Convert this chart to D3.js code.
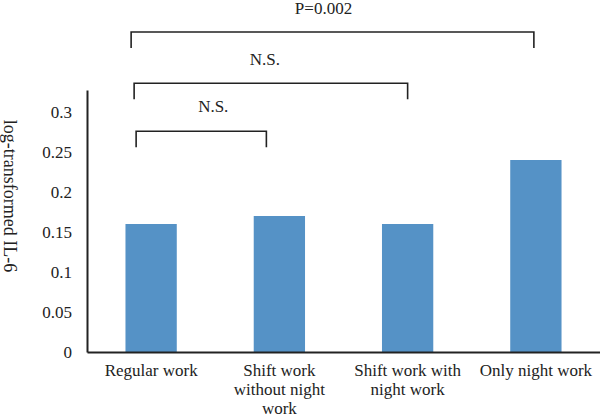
<!DOCTYPE html>
<html>
<head>
<meta charset="utf-8">
<script src="https://cdn.jsdelivr.net/npm/d3@7"></script>
<style>
  body { margin: 0; background: #fff; }
  svg, svg text { font-family: "Liberation Serif", "Times New Roman", serif; }
  svg { display: block; }
</style>
</head>
<body>
<div id="chart"></div>
<script>
// data
const categories = ["Regular work", "Shift work without night work", "Shift work with night work", "Only night work"];
const values = [0.16, 0.17, 0.16, 0.24];
const yTicks = [0, 0.05, 0.1, 0.15, 0.2, 0.25, 0.3];

// significance brackets: from / to category, height of the bar (axis units), label
const cmpFrom = ["Regular work", "Regular work", "Regular work"];
const cmpTo = ["Only night work", "Shift work with night work", "Shift work without night work"];
const cmpLevel = [0.4, 0.336, 0.276];
const cmpLabel = ["P=0.002", "N.S.", "N.S."];

const width = 600, height = 417;
const margin = {left: 87, right: 0, top: 0, bottom: 65};
const barColor = "#5592c6";
const ink = "#222";
const serif = "Liberation Serif";

// small nudges of the bracket ends / labels as drawn in the original
const bracketNudge = [
  {l: -20, r: -2, t: -9, dy: 18},
  {l: -17, r: 0, t: -6, dy: 18},
  {l: -15, r: -13, t: 12, dy: 19}
];

const svg = d3.select("#chart")
  .append("svg")
  .attr("width", width)
  .attr("height", height);

const x = d3.scaleBand()
  .domain(categories)
  .range([margin.left, width - margin.right])
  .paddingInner(0.6)
  .paddingOuter(0.3);

const y = d3.scaleLinear()
  .domain([0, 0.3275])
  .range([height - margin.bottom, 90]);

// bars
svg.append("g")
  .selectAll("rect")
  .data(values)
  .enter().append("rect")
  .attr("x", (d, i) => x(categories[i]))
  .attr("y", d => y(d))
  .attr("width", x.bandwidth())
  .attr("height", d => y(0) - y(d))
  .attr("fill", barColor);

// y axis
const yAxis = svg.append("g")
  .attr("transform", `translate(${margin.left},0)`)
  .call(d3.axisLeft(y).tickValues(yTicks).tickSize(0).tickPadding(15).tickFormat(d3.format("~g")))
  .attr("font-family", serif)
  .attr("font-size", 17);
yAxis.select(".domain").attr("stroke", ink).attr("stroke-width", 2);
yAxis.selectAll("text").attr("fill", ink);

// x axis
const xAxis = svg.append("g")
  .attr("transform", `translate(0,${y(0)})`)
  .call(d3.axisBottom(x).tickSize(0).tickPadding(0))
  .attr("font-family", serif)
  .attr("font-size", 17);
xAxis.select(".domain").attr("stroke", ink).attr("stroke-width", 2);
xAxis.selectAll("text")
  .attr("fill", ink)
  .attr("y", 0)
  .attr("dy", null)
  .call(wrap, 120);

function wrap(texts, w) {
  texts.each(function() {
    const text = d3.select(this);
    const words = text.text().split(/\s+/);
    text.text(null);
    let line = [];
    let lineNo = 0;
    let tspan = text.append("tspan").attr("x", 0).attr("y", 24);
    words.forEach(word => {
      line.push(word);
      tspan.text(line.join(" "));
      if (tspan.node().getComputedTextLength() > w && line.length > 1) {
        line.pop();
        tspan.text(line.join(" "));
        line = [word];
        lineNo++;
        tspan = text.append("tspan").attr("x", 0).attr("y", 24 + lineNo * 19).text(word);
      }
    });
  });
}

// y axis title
svg.append("text")
  .attr("transform", `translate(4,${y(0.195)}) rotate(90)`)
  .attr("text-anchor", "middle")
  .attr("font-family", serif)
  .attr("font-size", 18)
  .attr("fill", ink)
  .text("log-transformed IL-6");

// brackets
const tick = y(0) - y(0.02);
cmpLabel.forEach((lab, i) => {
  const n = bracketNudge[i];
  const x0 = x(cmpFrom[i]) + x.bandwidth() / 2 + n.l;
  const x1 = x(cmpTo[i]) + x.bandwidth() / 2 + n.r;
  const yl = y(cmpLevel[i]);
  svg.append("path")
    .attr("d", d3.line()([[x0, yl + tick], [x0, yl], [x1, yl], [x1, yl + tick]]))
    .attr("fill", "none")
    .attr("stroke", ink)
    .attr("stroke-width", 1.6);
  svg.append("text")
    .attr("x", (x0 + x1) / 2 + n.t)
    .attr("y", yl - n.dy)
    .attr("text-anchor", "middle")
    .attr("font-family", serif)
    .attr("font-size", 17)
    .attr("fill", ink)
    .text(lab);
});
</script>
</body>
</html>
